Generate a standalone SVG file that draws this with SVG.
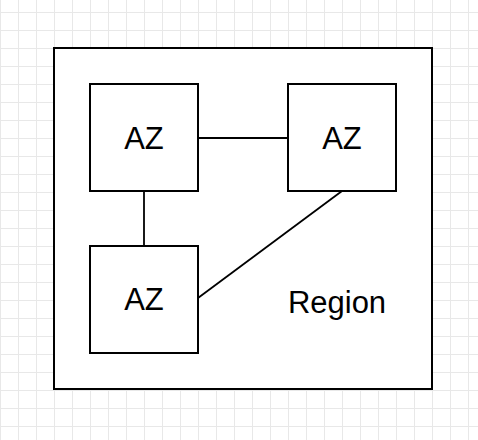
<svg xmlns="http://www.w3.org/2000/svg" width="478" height="440" viewBox="0 0 478 440">
  <defs>
    <pattern id="grid" patternUnits="userSpaceOnUse" x="0" y="12" width="18" height="18">
      <path d="M0 0.5 H18 M0.5 0 V18" fill="none" stroke="#e8e8e8" stroke-width="1"/>
    </pattern>
  </defs>
  <style>
    .box { fill: #ffffff; stroke: #000000; stroke-width: 2; }
    .edge { fill: none; stroke: #000000; stroke-width: 1.8; }
    .label { font-family: "Liberation Sans", Arial, Helvetica, sans-serif; font-size: 31px; fill: #000000; text-anchor: middle; dominant-baseline: central; }
  </style>
  <rect x="0" y="0" width="478" height="440" fill="#ffffff"/>
  <rect x="0" y="0" width="478" height="440" fill="url(#grid)"/>

  <g id="region">
    <rect class="box" x="54" y="48" width="378" height="341"/>
    <text class="label" x="337" y="302">Region</text>
  </g>

  <g id="connectors">
    <line class="edge" x1="198" y1="138" x2="288" y2="138"/>
    <line class="edge" x1="144" y1="191" x2="144" y2="246"/>
    <line class="edge" x1="342" y1="191" x2="198" y2="298"/>
  </g>

  <g id="az1">
    <rect class="box" x="90" y="84" width="108" height="107"/>
    <text class="label" x="144" y="138">AZ</text>
  </g>
  <g id="az2">
    <rect class="box" x="288" y="84" width="108" height="107"/>
    <text class="label" x="342" y="138">AZ</text>
  </g>
  <g id="az3">
    <rect class="box" x="90" y="246" width="108" height="107"/>
    <text class="label" x="144" y="299">AZ</text>
  </g>
</svg>
